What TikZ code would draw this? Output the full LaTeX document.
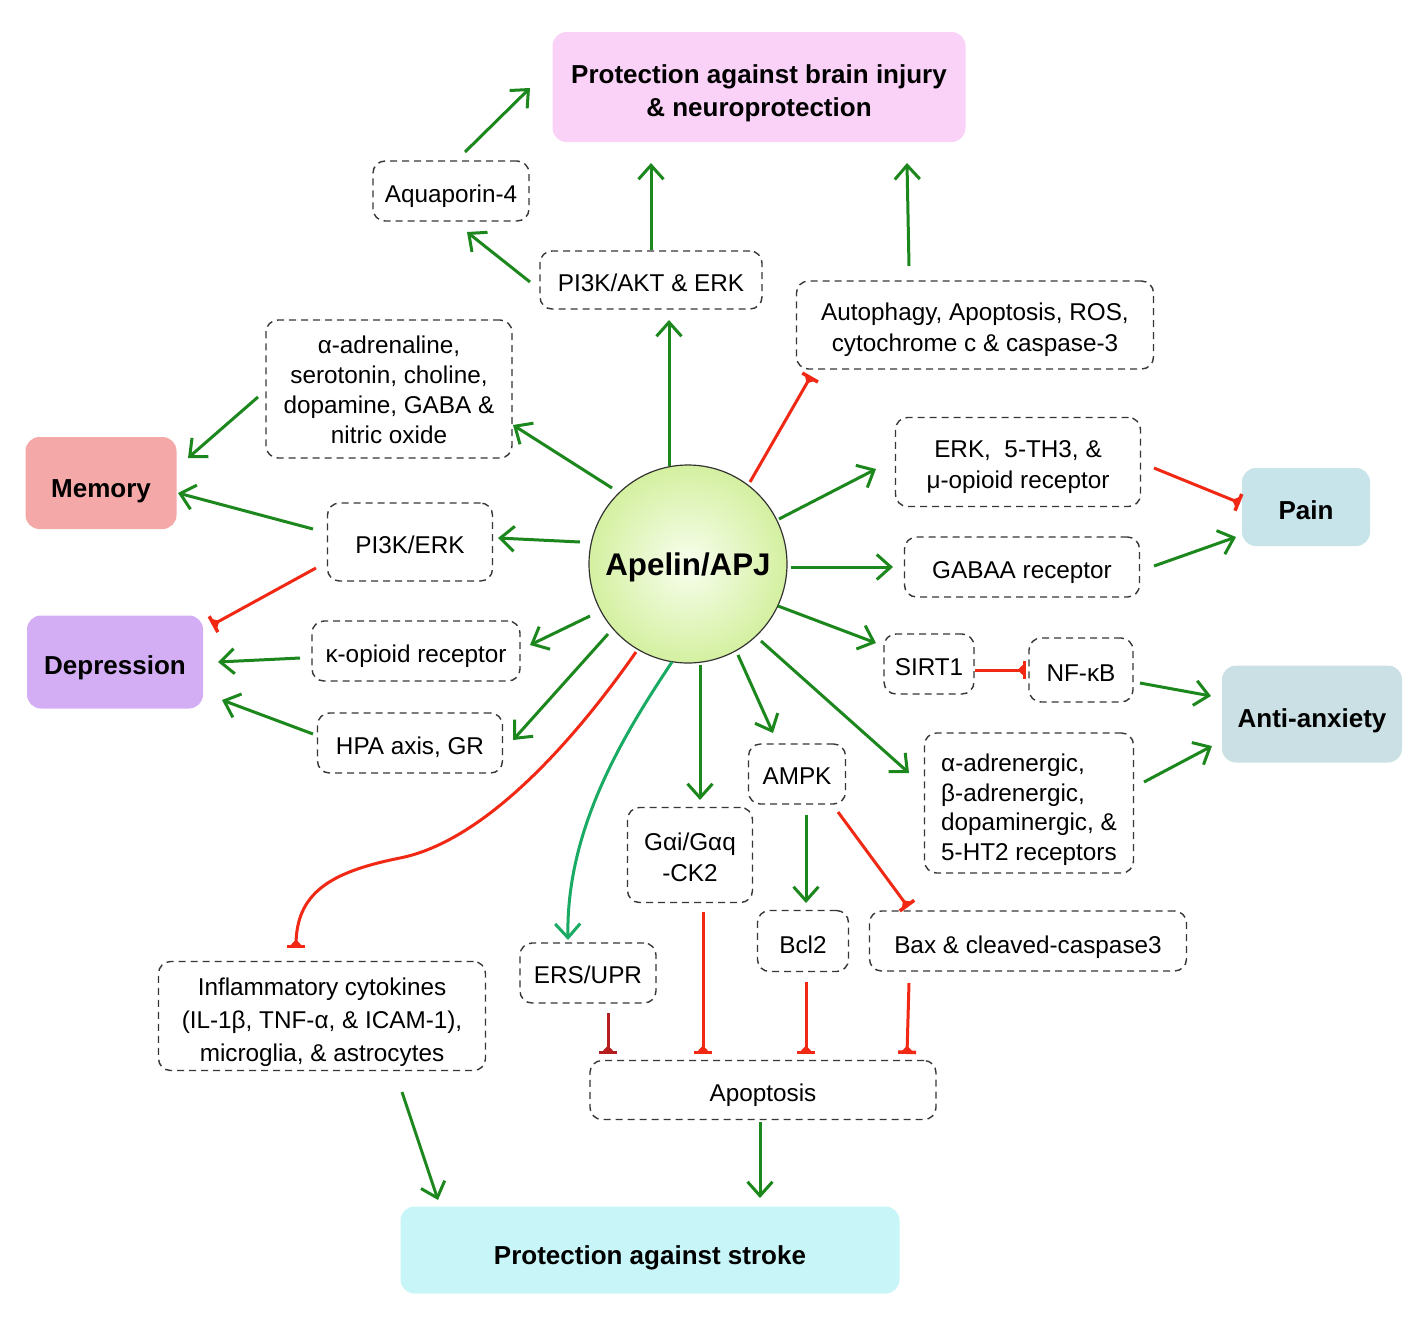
\documentclass[tikz,border=0pt]{standalone}
\usepackage{fontspec}
\setmainfont{Liberation Sans}
\usetikzlibrary{arrows.meta,calc}
\definecolor{gcol}{RGB}{28,135,28}
\definecolor{rcol}{RGB}{240,40,20}
\definecolor{drcol}{RGB}{180,30,30}
\definecolor{tcol}{RGB}{25,170,100}
\definecolor{dgray}{RGB}{55,55,55}
\definecolor{pinkc}{RGB}{250,210,248}
\definecolor{memc}{RGB}{245,168,168}
\definecolor{depc}{RGB}{212,174,245}
\definecolor{painc}{RGB}{198,228,234}
\definecolor{anxc}{RGB}{202,224,228}
\definecolor{strokec}{RGB}{200,246,248}
\definecolor{apout}{RGB}{212,240,160}
\definecolor{apin}{RGB}{248,254,238}
\newcommand\lowc[1]{\raisebox{-5pt}[\height][\depth]{\begin{tabular}{@{}c@{}}#1\end{tabular}}}
\newcommand\lowl[1]{\raisebox{-5pt}[\height][\depth]{\begin{tabular}{@{}l@{}}#1\end{tabular}}}
\newcommand\lowb[1]{\raisebox{-6pt}[\height][\depth]{\begin{tabular}{@{}c@{}}#1\end{tabular}}}
\begin{document}
\begin{tikzpicture}[x=1pt,y=-1pt,
  dbox/.style={draw=dgray, line width=1.4pt, dash pattern=on 7pt off 5pt,
    rounded corners=12pt, inner sep=0pt,
    font=\fontsize{24.3}{31}\selectfont},
  sbox/.style={rounded corners=14pt, inner sep=0pt,
    font=\bfseries\fontsize{26}{33}\selectfont},
  ga/.style={draw=gcol, line width=3pt, -{Straight Barb[length=14pt,width=25pt]}},
  ra/.style={draw=rcol, line width=3pt, -{Triangle[reversed,length=6pt,width=11pt,sep=-1pt]Bar[width=18pt,line width=3.5pt]}},
]
\useasboundingbox (0,0) rectangle (1417,1318);
\fill[white] (0,0) rectangle (1417,1318);

% ---- nodes ----
\node[sbox, fill=pinkc, minimum width=413pt, minimum height=110pt] (brain) at (759,87) {\lowb{Protection against brain injury\\\& neuroprotection}};
\node[dbox, minimum width=156pt, minimum height=60pt] (aqua) at (451,191) {\lowc{Aquaporin-4}};
\node[dbox, minimum width=222pt, minimum height=58pt] (pakt) at (651,280) {\lowc{PI3K/AKT \& ERK}};
\node[dbox, minimum width=357pt, minimum height=88pt] (auto) at (975,325) {\lowc{Autophagy, Apoptosis, ROS,\\cytochrome c \& caspase-3}};
\node[dbox, minimum width=246pt, minimum height=138pt, font=\fontsize{24.3}{30}\selectfont] (adren) at (389,389) {\raisebox{-3pt}[\height][\depth]{\begin{tabular}{@{}c@{}}α-adrenaline,\\serotonin, choline,\\dopamine, GABA \&\\nitric oxide\end{tabular}}};
\node[sbox, fill=memc, minimum width=151pt, minimum height=92pt] (memory) at (101,483) {\raisebox{-8pt}[\height][\depth]{Memory}};
\node[dbox, minimum width=165pt, minimum height=78pt] (perk) at (410,542) {\lowc{PI3K/ERK}};
\node[circle, minimum size=198pt, draw=black!80, line width=1.2pt, inner sep=0pt,
      inner color=apin, outer color=apout,
      font=\bfseries\fontsize{31.3}{36}\selectfont] (apelin) at (688,564) {\raisebox{-3pt}[\height][\depth]{Apelin/APJ}};
\node[dbox, minimum width=245pt, minimum height=89pt] (erk) at (1018,462) {\lowc{ERK,\ \ 5-TH3, \&\\μ-opioid receptor}};
\node[sbox, fill=painc, minimum width=128pt, minimum height=78pt] (pain) at (1306,507) {\lowb{Pain}};
\node[dbox, minimum width=235pt, minimum height=60pt] (gaba) at (1022,567) {\lowc{GABAA receptor}};
\node[sbox, fill=depc, minimum width=176pt, minimum height=93pt] (depr) at (115,662) {\lowb{Depression}};
\node[dbox, minimum width=208pt, minimum height=60pt] (kappa) at (416,651) {\lowc{κ-opioid receptor}};
\node[dbox, minimum width=185pt, minimum height=60pt] (hpa) at (410,743) {\lowc{HPA axis, GR}};
\node[dbox, minimum width=90pt, minimum height=60pt] (sirt) at (929,664) {\lowc{SIRT1}};
\node[dbox, minimum width=104pt, minimum height=64pt] (nfkb) at (1081,670) {\lowc{NF-κB}};
\node[sbox, fill=anxc, minimum width=180pt, minimum height=97pt] (anx) at (1312,714) {\raisebox{-7pt}[\height][\depth]{Anti-anxiety}};
\node[dbox, minimum width=209pt, minimum height=140pt, font=\fontsize{24.3}{29.5}\selectfont] (adrg) at (1029,803) {\raisebox{-7pt}[\height][\depth]{\begin{tabular}{@{}l@{}}α-adrenergic,\\β-adrenergic,\\dopaminergic, \&\\5-HT2 receptors\end{tabular}}};
\node[dbox, minimum width=97pt, minimum height=60pt] (ampk) at (797,774) {\raisebox{-2pt}[\height][\depth]{AMPK}};
\node[dbox, minimum width=125pt, minimum height=95pt] (gai) at (690,855) {\lowc{Gαi/Gαq\\-CK2}};
\node[dbox, minimum width=91pt, minimum height=61pt] (bcl) at (803,941) {\raisebox{-4pt}[\height][\depth]{Bcl2}};
\node[dbox, minimum width=317pt, minimum height=60pt] (bax) at (1028,941) {\raisebox{-6pt}[\height][\depth]{Bax \& cleaved-caspase3}};
\node[dbox, minimum width=136pt, minimum height=60pt] (ers) at (588,973) {\raisebox{-2pt}[\height][\depth]{ERS/UPR}};
\node[dbox, minimum width=327pt, minimum height=109pt, font=\fontsize{24.3}{33}\selectfont] (infl) at (322,1016) {\raisebox{-6pt}[\height][\depth]{\begin{tabular}{@{}c@{}}Inflammatory cytokines\\(IL-1β, TNF-α, \& ICAM-1),\\microglia, \& astrocytes\end{tabular}}};
\node[dbox, minimum width=346pt, minimum height=59pt] (apop) at (763,1090) {\lowc{Apoptosis}};
\node[sbox, fill=strokec, minimum width=499pt, minimum height=87pt] (stroke) at (650,1250) {\raisebox{-8pt}[\height][\depth]{Protection against stroke}};

% ---- connectors ----
\draw[ga] ([shift={(-76,-76)}]apelin.center) -- ([shift={(124,36)}]adren.center);
\draw[ga] ([shift={(-131,8)}]adren.center) -- ([shift={(87,-25)}]memory.center);
\draw[ga] ([shift={(-108,-22)}]apelin.center) -- ([shift={(88,-4)}]perk.center);
\draw[ga] ([shift={(-97,-13)}]perk.center) -- ([shift={(77,10)}]memory.center);
\draw[ra] ([shift={(-94,26)}]perk.center) -- ([shift={(97,-37)}]depr.center);
\draw[ga] ([shift={(-98,52)}]apelin.center) -- ([shift={(114,-6)}]kappa.center);
\draw[ga] ([shift={(-116,7)}]kappa.center) -- ([shift={(103,0)}]depr.center);
\draw[ga] ([shift={(-80,70)}]apelin.center) -- ([shift={(103,-3)}]hpa.center);
\draw[ga] ([shift={(-97,-9)}]hpa.center) -- ([shift={(107,38)}]depr.center);
\draw[ga] ([shift={(-19,-98)}]apelin.center) -- ([shift={(18,40)}]pakt.center);
\draw[ga] ([shift={(-121,2)}]pakt.center) -- ([shift={(16,41)}]aqua.center);
\draw[ga] ([shift={(14,-39)}]aqua.center) -- ([shift={(-229,1)}]brain.center);
\draw[ga] ([shift={(0,-30)}]pakt.center) -- ([shift={(-108,76)}]brain.center);
\draw[ra] ([shift={(62,-82)}]apelin.center) -- ([shift={(-164,51)}]auto.center);
\draw[ga] ([shift={(-66,-59)}]auto.center) -- ([shift={(148,76)}]brain.center);
\draw[ga] ([shift={(91,-45)}]apelin.center) -- ([shift={(-142,7)}]erk.center);
\draw[ra] ([shift={(136,6)}]erk.center) -- ([shift={(-66,-4)}]pain.center);
\draw[ga] ([shift={(103,3)}]apelin.center) -- ([shift={(-129,0)}]gaba.center);
\draw[ga] ([shift={(132,-1)}]gaba.center) -- ([shift={(-70,30)}]pain.center);
\draw[ga] ([shift={(90,42)}]apelin.center) -- ([shift={(-53,-21)}]sirt.center);
\draw[ra] ([shift={(46,6)}]sirt.center) -- ([shift={(-55,0)}]nfkb.center);
\draw[ga] ([shift={(59,13)}]nfkb.center) -- ([shift={(-101,-18)}]anx.center);
\draw[ga] ([shift={(73,77)}]apelin.center) -- ([shift={(-120,-30)}]adrg.center);
\draw[ga] ([shift={(115,-21)}]adrg.center) -- ([shift={(-100,32)}]anx.center);
\draw[ga] ([shift={(50,91)}]apelin.center) -- ([shift={(-24,-41)}]ampk.center);
\draw[ga] ([shift={(12,101)}]apelin.center) -- ([shift={(10,-55)}]gai.center);
\draw[ga, draw=tcol] ([shift={(-16,98)}]apelin.center) .. controls +(-50,75) and +(-2,-110) .. ([shift={(-20,-33)}]ers.center);
\draw[ra] ([shift={(-52,88)}]apelin.center) .. controls +(-70,100) and +(80,-16) .. ++(-236,206)
      .. controls +(-70,14) and +(0,-55) .. ([shift={(-26,-68)}]infl.center);
\draw[ga] ([shift={(9,41)}]ampk.center) -- ([shift={(3,-38)}]bcl.center);
\draw[ra] ([shift={(41,38)}]ampk.center) -- ([shift={(-120,-34)}]bax.center);
\draw[ra, draw=drcol] ([shift={(20,40)}]ers.center) -- ([shift={(-155,-36)}]apop.center);
\draw[ra] ([shift={(13,57)}]gai.center) -- ([shift={(-60,-36)}]apop.center);
\draw[ra] ([shift={(3,41)}]bcl.center) -- ([shift={(43,-36)}]apop.center);
\draw[ra] ([shift={(-119,42)}]bax.center) -- ([shift={(144,-36)}]apop.center);
\draw[ga] ([shift={(-3,32)}]apop.center) -- ([shift={(110,-52)}]stroke.center);
\draw[ga] ([shift={(80,76)}]infl.center) -- ([shift={(-212,-50)}]stroke.center);
\end{tikzpicture}
\end{document}
